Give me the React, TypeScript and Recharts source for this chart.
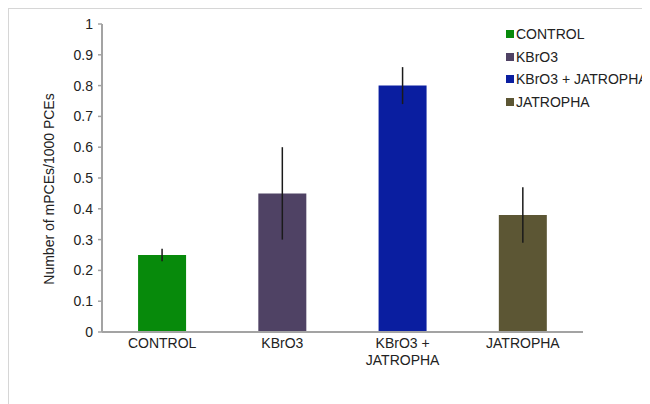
import React from 'react';
import {
  Bar,
  BarChart,
  Cell,
  ErrorBar,
  XAxis,
  YAxis,
} from 'recharts';

const CATEGORIES = ['CONTROL', 'KBrO3', 'KBrO3 + JATROPHA', 'JATROPHA'];
const VALUES = [0.25, 0.45, 0.8, 0.38];
const ERRORS = [0.02, 0.15, 0.06, 0.09];
const COLORS = ['#078a0b', '#4f4264', '#0a1ea0', '#5c5634'];
const Y_TICKS = [0, 0.1, 0.2, 0.3, 0.4, 0.5, 0.6, 0.7, 0.8, 0.9, 1];

const FONT = '"Liberation Sans", Arial, sans-serif';
const AXIS_GREY = '#a3a3a3';

const data = CATEGORIES.map((name, i) => ({
  name,
  value: VALUES[i],
  err: ERRORS[i],
  color: COLORS[i],
}));

// wraps long category names onto two lines, the way the original does
const CategoryTick = ({ x, y, payload }: any) => {
  const label: string = payload.value;
  const lines = label.length > 12 ? label.replace(' + ', ' +\n').split('\n') : [label];
  return (
    <text x={x} y={y + 16} textAnchor="middle" fill="#222" fontSize={14} fontFamily={FONT}>
      {lines.map((line, i) => (
        <tspan key={i} x={x} dy={i === 0 ? 0 : 17}>
          {line}
        </tspan>
      ))}
    </text>
  );
};

const YLabel = ({ viewBox }: any) => {
  const cx = viewBox.x + 40;
  const cy = viewBox.y + viewBox.height / 2 + 11;
  return (
    <text
      x={cx}
      y={cy}
      transform={`rotate(-90 ${cx} ${cy})`}
      textAnchor="middle"
      dominantBaseline="central"
      fill="#222"
      fontSize={14}
      fontFamily={FONT}
    >
      Number of mPCEs/1000 PCEs
    </text>
  );
};

export default function App() {
  return (
    <div
      style={{
        position: 'relative',
        width: 642,
        height: 396,
        borderTop: '1px solid #d6d6d6',
        borderLeft: '1px solid #d6d6d6',
        boxSizing: 'border-box',
        fontFamily: FONT,
      }}
    >
      <BarChart
        width={641}
        height={395}
        data={data}
        margin={{ top: 15, right: 67, bottom: 0, left: 0 }}
        barCategoryGap="30%"
      >
        <YAxis
          width={93}
          domain={[0, 1]}
          ticks={Y_TICKS}
          interval={0}
          axisLine={{ stroke: AXIS_GREY, strokeWidth: 2 }}
          tickLine={{ stroke: AXIS_GREY, strokeWidth: 1.5 }}
          tickSize={4}
          tickMargin={5}
          tick={{ fill: '#222', fontSize: 14, fontFamily: FONT }}
          label={<YLabel />}
        />
        <XAxis
          dataKey="name"
          height={72}
          interval={0}
          axisLine={{ stroke: AXIS_GREY, strokeWidth: 2 }}
          tickLine={false}
          tickSize={0}
          tickMargin={0}
          tick={<CategoryTick />}
        />
        <Bar dataKey="value" isAnimationActive={false}>
          {data.map((d, i) => (
            <Cell key={i} fill={d.color} />
          ))}
          <ErrorBar dataKey="err" width={0} stroke="#1a1a1a" strokeWidth={1.5} direction="y" />
        </Bar>
      </BarChart>

      <div style={{ position: 'absolute', left: 497, top: 14, fontSize: 14, color: '#222' }}>
        {data.map((d) => (
          <div
            key={d.name}
            style={{ display: 'flex', alignItems: 'center', height: 22.5, whiteSpace: 'nowrap' }}
          >
            <span style={{ width: 8, height: 8, background: d.color, marginRight: 2 }} />
            <span>{d.name}</span>
          </div>
        ))}
      </div>
    </div>
  );
}
